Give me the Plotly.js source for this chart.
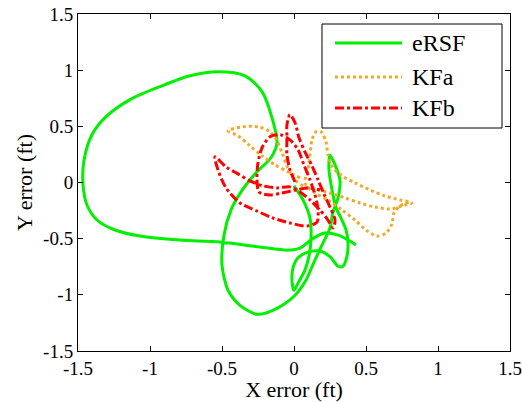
<!DOCTYPE html>
<html>
<head>
<meta charset="utf-8">
<script src="https://cdn.plot.ly/plotly-3.0.1.min.js"></script>
<style>html,body{margin:0;padding:0;background:#fff;}#chart{width:522px;height:402px;}</style>
</head>
<body>
<div id="chart"></div>
<script>
// eRSF trajectory error (ft)
const ersfX = [0, 0.0625, 0.111, 0.118, 0.104, 0.076, 0.028, 0, -0.014, -0.007, 0.028, 0.097, 0.18, 0.25, 0.306, 0.34, 0.368, 0.375, 0.361, 0.326, 0.29, 0.264, 0.243, 0.25, 0.285, 0.319, 0.306, 0.271, 0.25, 0.194, 0.139, 0.083, 0.007, -0.118, -0.257, -0.375, -0.458, -0.5, -0.486, -0.4375, -0.368, -0.264, -0.16, -0.118, -0.153, -0.222, -0.34, -0.528, -0.722, -0.93, -1.139, -1.3125, -1.403, -1.458, -1.465, -1.4375, -1.368, -1.243, -1.069, -0.792, -0.514, -0.236, -0.042, 0.042, 0.125, 0.215, 0.306, 0.389, 0.43];
const ersfY = [-0.03, -0.155, -0.316, -0.51, -0.655, -0.78, -0.896, -0.96, -0.87, -0.76, -0.67, -0.62, -0.61, -0.66, -0.745, -0.745, -0.655, -0.54, -0.42, -0.316, -0.218, -0.066, 0.113, 0.246, 0.157, 0.023, -0.137, -0.2625, -0.405, -0.557, -0.709, -0.87, -1.004, -1.12, -1.173, -1.093, -0.959, -0.736, -0.468, -0.245, -0.084, 0.086, 0.22, 0.354, 0.577, 0.809, 0.95, 0.987, 0.95, 0.854, 0.7375, 0.577, 0.425, 0.2, -0.02, -0.2, -0.334, -0.423, -0.477, -0.5125, -0.53, -0.575, -0.602, -0.584, -0.504, -0.45, -0.468, -0.521, -0.557];

// KFa trajectory error (ft)
const kfaX = [0.042, -0.042, -0.132, -0.222, -0.306, -0.389, -0.458, -0.354, -0.25, -0.167, -0.118, -0.083, -0.049, 0.007, 0.076, 0.167, 0.25, 0.354, 0.458, 0.5625, 0.667, 0.771, 0.819, 0.736, 0.632, 0.528, 0.424, 0.333, 0.271, 0.236, 0.222, 0.1875, 0.153, 0.125, 0.111, 0.097, 0.076, 0.146, 0.236, 0.333, 0.424, 0.5, 0.576, 0.639, 0.68, 0.694, 0.736, 0.806];
const kfaY = [0.041, 0.095, 0.157, 0.2375, 0.327, 0.416, 0.461, 0.496, 0.496, 0.452, 0.371, 0.264, 0.148, 0.023, -0.039, -0.066, -0.093, -0.1375, -0.182, -0.218, -0.236, -0.2, -0.182, -0.155, -0.12, -0.066, -0.004, 0.059, 0.13, 0.246, 0.3625, 0.452, 0.452, 0.38, 0.246, 0.1125, -0.004, -0.093, -0.155, -0.245, -0.334, -0.423, -0.477, -0.45, -0.37, -0.271, -0.209, -0.173];

// KFb trajectory error (ft)
const kfbX = [0.007, -0.028, -0.049, -0.049, -0.049, -0.028, 0.007, 0.035, 0.076, 0.125, 0.167, 0.208, 0.25, 0.285, 0.271, 0.236, 0.18, 0.111, 0.042, -0.028, -0.118, -0.215, -0.306, -0.389, -0.472, -0.549, -0.528, -0.472, -0.375, -0.257, -0.146, -0.028, 0.09, 0.16, 0.167, 0.146, 0.111, 0.069, 0.028, -0.028, -0.097, -0.167, -0.222, -0.25, -0.257, -0.243, -0.167, -0.083, 0.014, 0.097, 0.18];
const kfbY = [0.005, 0.1125, 0.246, 0.398, 0.514, 0.604, 0.532, 0.398, 0.273, 0.148, 0.023, -0.102, -0.218, -0.334, -0.405, -0.334, -0.245, -0.155, -0.084, -0.039, -0.048, -0.03, 0.014, 0.077, 0.139, 0.229, 0.1125, -0.048, -0.182, -0.254, -0.316, -0.36, -0.3875, -0.352, -0.245, -0.111, 0.023, 0.157, 0.291, 0.38, 0.425, 0.407, 0.309, 0.175, 0.041, -0.084, -0.111, -0.093, -0.066, -0.048, -0.066];

const seriesNames = ['eRSF', 'KFa', 'KFb'];
const tickVals = [-1.5, -1, -0.5, 0, 0.5, 1, 1.5];
const tickText = ['-1.5', '-1', '-0.5', '0', '0.5', '1', '1.5'];

const FONT = 'Liberation Serif, Times New Roman, serif';
const styles = [
  {color: 'rgb(0,240,0)', width: 3, dash: 'solid'},
  {color: 'rgb(240,170,40)', width: 3, dash: 'dot'},
  {color: 'rgb(255,0,0)', width: 3, dash: 'dashdot'}
];
const xs = [ersfX, kfaX, kfbX];
const ys = [ersfY, kfaY, kfbY];

const traces = seriesNames.map((n, i) => ({
  x: xs[i], y: ys[i], name: n, mode: 'lines', type: 'scatter',
  line: Object.assign({shape: 'spline', smoothing: 0.8}, styles[i])
}));

// MATLAB-style legend box (top right, inside axes), in paper coordinates
const legBox = {x0: 0.5648, x1: 0.9815, y0: 0.6617, y1: 0.9703};
const legRowY = [0.9139, 0.8131, 0.7211];
const shapes = [{type: 'rect', xref: 'paper', yref: 'paper', x0: legBox.x0, x1: legBox.x1, y0: legBox.y0, y1: legBox.y1,
  line: {color: '#000', width: 1}, fillcolor: '#fff', layer: 'above'}];
const annotations = [];
seriesNames.forEach((n, i) => {
  shapes.push({type: 'line', xref: 'paper', yref: 'paper', x0: 0.5949, x1: 0.75, y0: legRowY[i], y1: legRowY[i],
    line: {color: styles[i].color, width: styles[i].width, dash: styles[i].dash}, layer: 'above'});
  annotations.push({xref: 'paper', yref: 'paper', x: 0.7685, y: legRowY[i], xanchor: 'left', yanchor: 'middle',
    text: n, showarrow: false, font: {family: FONT, size: 24, color: '#000'}});
});

const axisCommon = {
  range: [-1.5, 1.5],
  tickvals: tickVals,
  ticktext: tickText,
  ticks: 'inside',
  ticklen: 5,
  tickcolor: '#000',
  showline: true,
  mirror: 'ticks',
  linecolor: '#000',
  linewidth: 1,
  showgrid: false,
  zeroline: false,
  ticklabeloverflow: 'allow',
  tickfont: {family: FONT, size: 19, color: '#000'}
};

const layout = {
  width: 522, height: 402,
  margin: {l: 78, r: 12, t: 14, b: 51},
  paper_bgcolor: '#fff', plot_bgcolor: '#fff',
  font: {family: FONT, color: '#000'},
  xaxis: Object.assign({}, axisCommon, {
    title: {text: 'X error (ft)', font: {family: FONT, size: 22, color: '#000'}, standoff: 4}
  }),
  yaxis: Object.assign({}, axisCommon, {
    title: {text: 'Y error (ft)', font: {family: FONT, size: 22, color: '#000'}, standoff: 4}
  }),
  showlegend: false,
  shapes: shapes,
  annotations: annotations
};

Plotly.newPlot('chart', traces, layout, {displayModeBar: false, staticPlot: true});
</script>
</body>
</html>
